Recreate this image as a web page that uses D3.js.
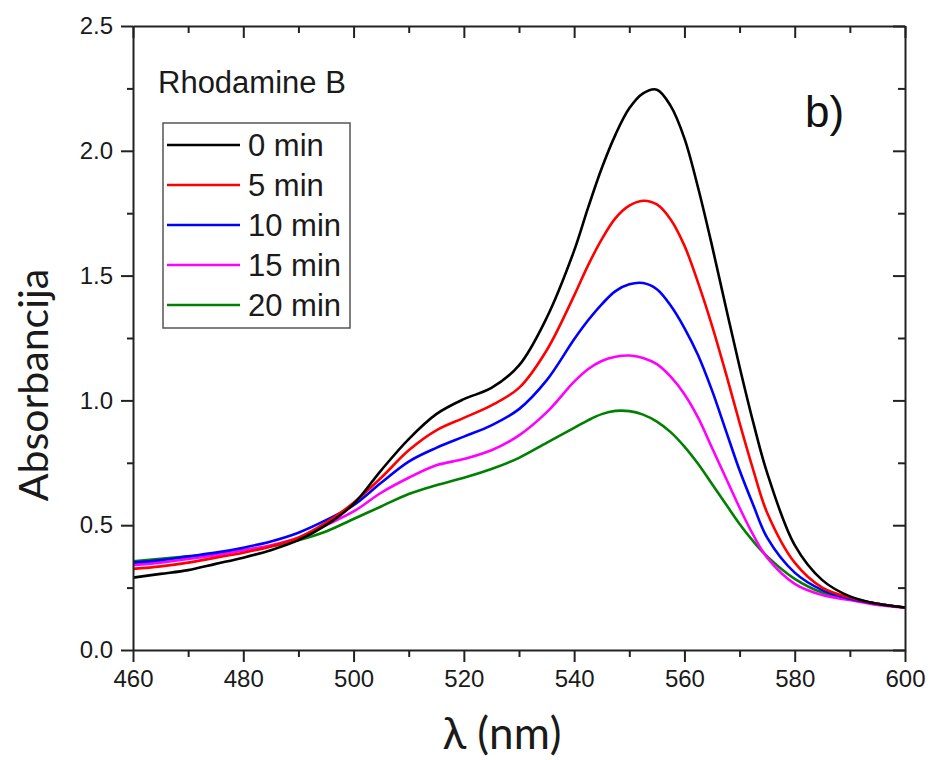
<!DOCTYPE html>
<html>
<head>
<meta charset="utf-8">
<script src="https://cdn.jsdelivr.net/npm/d3@7"></script>
<style>
  html, body { margin: 0; padding: 0; background: #fff; }
  svg { display: block; }
</style>
</head>
<body>
<svg id="chart" width="933" height="760"></svg>
<script>
// ---- Data ----
const wavelengths = [460,465,470,475,480,485,490,495,500,505,510,515,520,525,530,535,540,542.5,545,547.5,550,552.5,555,557.5,560,562.5,565,567.5,570,572.5,575,580,585,590,595,600];
const min0  = [0.29,0.305,0.32,0.345,0.37,0.40,0.44,0.50,0.585,0.72,0.845,0.945,1.005,1.05,1.14,1.33,1.60,1.77,1.93,2.065,2.17,2.23,2.245,2.18,2.05,1.85,1.62,1.375,1.135,0.91,0.71,0.42,0.28,0.215,0.185,0.17];
const min5  = [0.325,0.335,0.35,0.37,0.39,0.415,0.45,0.51,0.59,0.69,0.80,0.88,0.93,0.98,1.05,1.20,1.42,1.54,1.645,1.73,1.78,1.80,1.785,1.725,1.62,1.47,1.30,1.11,0.91,0.72,0.55,0.35,0.25,0.21,0.185,0.17];
const min10 = [0.35,0.36,0.375,0.39,0.41,0.435,0.47,0.52,0.58,0.67,0.755,0.81,0.855,0.90,0.965,1.08,1.245,1.32,1.385,1.438,1.465,1.47,1.445,1.38,1.29,1.18,1.04,0.88,0.72,0.58,0.45,0.31,0.24,0.205,0.185,0.17];
const min15 = [0.34,0.35,0.365,0.38,0.40,0.42,0.45,0.50,0.555,0.63,0.69,0.74,0.765,0.80,0.86,0.952,1.075,1.125,1.158,1.175,1.18,1.17,1.145,1.095,1.025,0.93,0.81,0.69,0.57,0.46,0.37,0.265,0.22,0.20,0.18,0.17];
const min20 = [0.355,0.365,0.375,0.385,0.40,0.415,0.44,0.475,0.525,0.575,0.625,0.66,0.69,0.725,0.77,0.83,0.89,0.92,0.945,0.958,0.957,0.943,0.915,0.873,0.815,0.745,0.665,0.585,0.505,0.435,0.375,0.285,0.23,0.205,0.185,0.17];

const seriesNames = ["0 min","5 min","10 min","15 min","20 min"];
const seriesValues = [min0, min5, min10, min15, min20];
const seriesColors = ["#000000","#ff0000","#0000ff","#ff00ff","#008000"];

const xTicks = [460,480,500,520,540,560,580,600];
const xMinorTicks = [470,490,510,530,550,570,590];
const yTicks = [0.0,0.5,1.0,1.5,2.0,2.5];
const yMinorTicks = [0.25,0.75,1.25,1.75,2.25];

const titleText = "Rhodamine B";
const panelLabel = "b)";
const xLabel = "λ (nm)";
const yLabel = "Absorbancija";

// ---- Layout ----
const W = 933, H = 760;
const margin = {left: 133, right: 28, top: 26, bottom: 110};
const pw = W - margin.left - margin.right;
const ph = H - margin.top - margin.bottom;

const svg = d3.select("#chart");
const g = svg.append("g").attr("transform", `translate(${margin.left},${margin.top})`);

const x = d3.scaleLinear().domain([460,600]).range([0,pw]);
const y = d3.scaleLinear().domain([0,2.5]).range([ph,0]);

const axisColor = "#222";
const tickFont = "'Liberation Sans', Arial, sans-serif";

// clip
svg.append("defs").append("clipPath").attr("id","clip")
  .append("rect").attr("x",0).attr("y",0).attr("width",pw).attr("height",ph);

// lines
const line = d3.line()
  .x((d,i)=>x(wavelengths[i]))
  .y(d=>y(d))
  .curve(d3.curveCatmullRom.alpha(0.5));

const lines = g.append("g").attr("clip-path","url(#clip)");
seriesValues.slice().reverse().forEach((vals, k) => {
  const idx = seriesValues.length - 1 - k;
  lines.append("path")
    .datum(vals)
    .attr("fill","none")
    .attr("stroke", seriesColors[idx])
    .attr("stroke-width", 2.6)
    .attr("stroke-linejoin","round")
    .attr("d", line);
});

// axes
function styleAxis(sel){
  sel.selectAll("path.domain").attr("stroke", axisColor).attr("stroke-width", 2);
  sel.selectAll(".tick line").attr("stroke", axisColor).attr("stroke-width", 2);
  sel.selectAll(".tick text").attr("fill", "#1a1a1a").style("font-family", tickFont).style("font-size","24px");
}

// bottom
const xb = g.append("g").attr("transform",`translate(0,${ph})`)
  .call(d3.axisBottom(x).tickValues(xTicks).tickSizeInner(12).tickSizeOuter(0).tickPadding(8).tickFormat(d3.format("d")));
styleAxis(xb);
const xbm = g.append("g").attr("transform",`translate(0,${ph})`)
  .call(d3.axisBottom(x).tickValues(xMinorTicks).tickSize(7).tickFormat(""));
styleAxis(xbm);
xbm.select("path.domain").remove();

// top
const xt = g.append("g")
  .call(d3.axisTop(x).tickValues(xTicks).tickSizeInner(-12).tickSizeOuter(0).tickFormat(""));
styleAxis(xt);
const xtm = g.append("g")
  .call(d3.axisTop(x).tickValues(xMinorTicks).tickSize(-7).tickFormat(""));
styleAxis(xtm);
xtm.select("path.domain").remove();

// left
const yl = g.append("g")
  .call(d3.axisLeft(y).tickValues(yTicks).tickSizeInner(12).tickSizeOuter(0).tickPadding(8).tickFormat(d3.format(".1f")));
styleAxis(yl);
const ylm = g.append("g")
  .call(d3.axisLeft(y).tickValues(yMinorTicks).tickSize(6).tickFormat(""));
styleAxis(ylm);
ylm.select("path.domain").remove();

// right
const yr = g.append("g").attr("transform",`translate(${pw},0)`)
  .call(d3.axisRight(y).tickValues(yTicks).tickSizeInner(-12).tickSizeOuter(0).tickFormat(""));
styleAxis(yr);
const yrm = g.append("g").attr("transform",`translate(${pw},0)`)
  .call(d3.axisRight(y).tickValues(yMinorTicks).tickSize(-7).tickFormat(""));
styleAxis(yrm);
yrm.select("path.domain").remove();

// axis titles
svg.append("text")
  .attr("x", 502)
  .attr("y", 749)
  .attr("text-anchor","middle")
  .style("font-family","Lato, 'Open Sans', sans-serif")
  .style("font-size","44px")
  .attr("fill","#1a1a1a")
  .text(xLabel);

svg.append("text")
  .attr("transform", `translate(48, 385) rotate(-90)`)
  .attr("text-anchor","middle")
  .style("font-family","Lato, 'Open Sans', sans-serif")
  .style("font-size","41px")
  .attr("fill","#1a1a1a")
  .text(yLabel);

// title inside
g.append("text")
  .attr("x", 158 - margin.left)
  .attr("y", 93 - margin.top)
  .style("font-family", tickFont)
  .style("font-size","31px")
  .attr("fill","#1a1a1a")
  .text(titleText);

g.append("text")
  .attr("x", 805 - margin.left)
  .attr("y", 127 - margin.top)
  .style("font-family", tickFont)
  .style("font-size","44px")
  .attr("fill","#111")
  .text(panelLabel);

// legend
const leg = svg.append("g");
leg.append("rect")
  .attr("x",163).attr("y",123).attr("width",187).attr("height",205)
  .attr("fill","#fff").attr("stroke","#555").attr("stroke-width",1.5);
seriesNames.forEach((name,i)=>{
  const yy = 145 + i*40;
  leg.append("line").attr("x1",167).attr("x2",240).attr("y1",yy).attr("y2",yy)
    .attr("stroke",seriesColors[i]).attr("stroke-width",2.6);
  leg.append("text").attr("x",248).attr("y",yy+11)
    .style("font-family",tickFont).style("font-size","31px").attr("fill","#1a1a1a")
    .text(name);
});
</script>
</body>
</html>
